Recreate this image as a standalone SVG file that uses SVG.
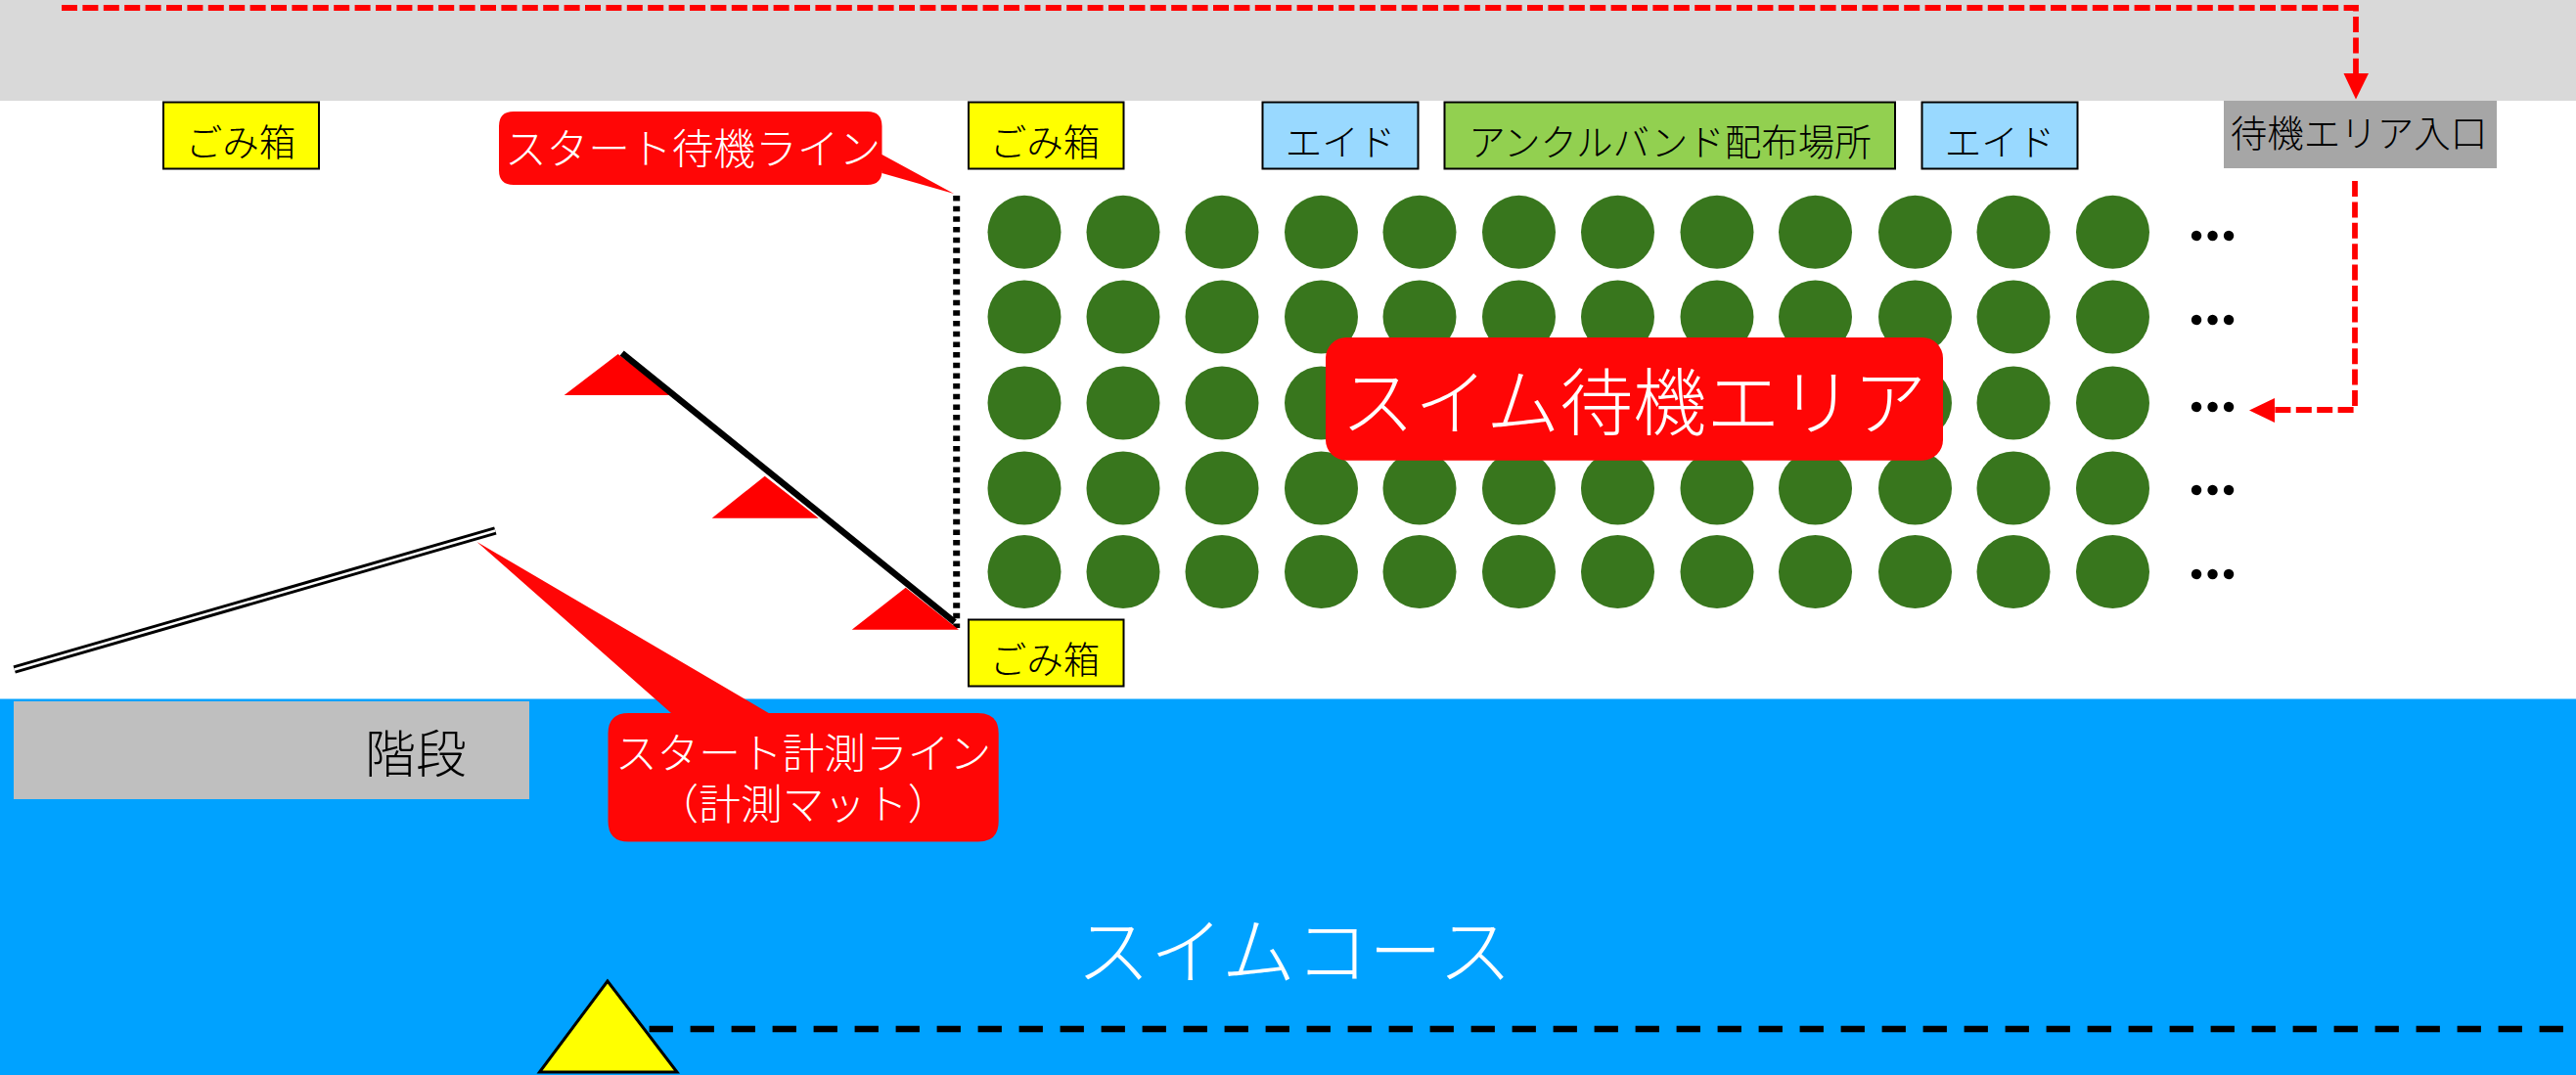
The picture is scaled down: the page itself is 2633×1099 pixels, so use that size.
<svg xmlns="http://www.w3.org/2000/svg" width="2633" height="1099" viewBox="0 0 2633 1099">
<defs>
<style>
text{font-family:"Noto Sans CJK JP","Liberation Serif",sans-serif;font-weight:300;text-anchor:middle}
.k{font-size:37.500px;fill:#000}
.w{font-size:42.700px;fill:#fff}
.b{font-size:75px;fill:#fff}
.box{stroke:#000;stroke-width:2}
.trash{fill:#ff0}
.aid{fill:#99d9ff}
.red{fill:#ff0606}
.flag{fill:#f00}
.seat{fill:#38761d}
.dots{font-size:49px;font-family:"Liberation Serif",serif;font-weight:700;fill:#000;stroke:#000;stroke-width:2.500}
.route{fill:none;stroke:#f00;stroke-width:5.800;stroke-dasharray:16 5.400}
</style>
</defs>
<rect width="2633" height="1099" fill="#fff"/>
<rect id="top-band" x="0" y="0" width="2633" height="103" fill="#d9d9d9"/>
<rect id="swim-water" x="0" y="714.500" width="2633" height="384.500" fill="#00a2ff"/>

<g id="seats">
<g id="row1"><circle class="seat" cx="1047" cy="237.3" r="37.5"/><circle class="seat" cx="1148" cy="237.3" r="37.5"/><circle class="seat" cx="1249" cy="237.3" r="37.5"/><circle class="seat" cx="1350.5" cy="237.3" r="37.5"/><circle class="seat" cx="1451" cy="237.3" r="37.5"/><circle class="seat" cx="1552.5" cy="237.3" r="37.5"/><circle class="seat" cx="1653.5" cy="237.3" r="37.5"/><circle class="seat" cx="1755" cy="237.3" r="37.5"/><circle class="seat" cx="1855.5" cy="237.3" r="37.5"/><circle class="seat" cx="1957.5" cy="237.3" r="37.5"/><circle class="seat" cx="2058" cy="237.3" r="37.5"/><circle class="seat" cx="2159.5" cy="237.3" r="37.5"/></g>
<g id="row2"><circle class="seat" cx="1047" cy="324" r="37.5"/><circle class="seat" cx="1148" cy="324" r="37.5"/><circle class="seat" cx="1249" cy="324" r="37.5"/><circle class="seat" cx="1350.5" cy="324" r="37.5"/><circle class="seat" cx="1451" cy="324" r="37.5"/><circle class="seat" cx="1552.5" cy="324" r="37.5"/><circle class="seat" cx="1653.5" cy="324" r="37.5"/><circle class="seat" cx="1755" cy="324" r="37.5"/><circle class="seat" cx="1855.5" cy="324" r="37.5"/><circle class="seat" cx="1957.5" cy="324" r="37.5"/><circle class="seat" cx="2058" cy="324" r="37.5"/><circle class="seat" cx="2159.5" cy="324" r="37.5"/></g>
<g id="row3"><circle class="seat" cx="1047" cy="412" r="37.5"/><circle class="seat" cx="1148" cy="412" r="37.5"/><circle class="seat" cx="1249" cy="412" r="37.5"/><circle class="seat" cx="1350.5" cy="412" r="37.5"/><circle class="seat" cx="1451" cy="412" r="37.5"/><circle class="seat" cx="1552.5" cy="412" r="37.5"/><circle class="seat" cx="1653.5" cy="412" r="37.5"/><circle class="seat" cx="1755" cy="412" r="37.5"/><circle class="seat" cx="1855.5" cy="412" r="37.5"/><circle class="seat" cx="1957.5" cy="412" r="37.5"/><circle class="seat" cx="2058" cy="412" r="37.5"/><circle class="seat" cx="2159.5" cy="412" r="37.5"/></g>
<g id="row4"><circle class="seat" cx="1047" cy="499" r="37.5"/><circle class="seat" cx="1148" cy="499" r="37.5"/><circle class="seat" cx="1249" cy="499" r="37.5"/><circle class="seat" cx="1350.5" cy="499" r="37.5"/><circle class="seat" cx="1451" cy="499" r="37.5"/><circle class="seat" cx="1552.5" cy="499" r="37.5"/><circle class="seat" cx="1653.5" cy="499" r="37.5"/><circle class="seat" cx="1755" cy="499" r="37.5"/><circle class="seat" cx="1855.5" cy="499" r="37.5"/><circle class="seat" cx="1957.5" cy="499" r="37.5"/><circle class="seat" cx="2058" cy="499" r="37.5"/><circle class="seat" cx="2159.5" cy="499" r="37.5"/></g>
<g id="row5"><circle class="seat" cx="1047" cy="584.5" r="37.5"/><circle class="seat" cx="1148" cy="584.5" r="37.5"/><circle class="seat" cx="1249" cy="584.5" r="37.5"/><circle class="seat" cx="1350.5" cy="584.5" r="37.5"/><circle class="seat" cx="1451" cy="584.5" r="37.5"/><circle class="seat" cx="1552.5" cy="584.5" r="37.5"/><circle class="seat" cx="1653.5" cy="584.5" r="37.5"/><circle class="seat" cx="1755" cy="584.5" r="37.5"/><circle class="seat" cx="1855.5" cy="584.5" r="37.5"/><circle class="seat" cx="1957.5" cy="584.5" r="37.5"/><circle class="seat" cx="2058" cy="584.5" r="37.5"/><circle class="seat" cx="2159.5" cy="584.5" r="37.5"/></g>
</g>

<g id="more-dots">
<text class="dots" x="2261.5" y="245">…</text>
<text class="dots" x="2261.5" y="331">…</text>
<text class="dots" x="2261.5" y="419.500">…</text>
<text class="dots" x="2261.5" y="505">…</text>
<text class="dots" x="2261.5" y="591">…</text>
</g>

<g id="trash-1"><rect class="box trash" x="167" y="104.5" width="159" height="68"/><text class="k" x="246" y="159">ごみ箱</text></g>
<g id="trash-2"><rect class="box trash" x="990" y="104.5" width="158.500" height="68"/><text class="k" x="1068" y="159">ごみ箱</text></g>
<g id="trash-3"><rect class="box trash" x="990" y="633.500" width="158.500" height="68"/><text class="k" x="1068" y="688">ごみ箱</text></g>
<g id="aid-1"><rect class="box aid" x="1290.500" y="104.500" width="159" height="68"/><text class="k" x="1370" y="159">エイド</text></g>
<g id="anklet"><rect class="box" fill="#92d050" x="1476.500" y="104.500" width="460.500" height="68"/><text class="k" x="1707" y="159">アンクルバンド配布場所</text></g>
<g id="aid-2"><rect class="box aid" x="1964.500" y="104.500" width="159" height="68"/><text class="k" x="2044" y="159">エイド</text></g>
<g id="entrance"><rect fill="#a6a6a6" x="2273" y="103" width="279" height="69"/><text class="k" x="2411" y="150">待機エリア入口</text></g>
<g id="stairs"><rect fill="#bfbfbf" x="14" y="717" width="527" height="100"/><text x="425" y="790" font-size="52" fill="#000">階段</text></g>
<g id="swim-course"><text class="b" x="1323" y="1000">スイムコース</text></g>

<g id="connectors">
<path class="route" d="M63 8H2408V76"/>
<polygon fill="#f00" points="2395.500,75 2421,75 2408,101.500"/>
<path class="route" d="M2407 185V419H2324"/>
<polygon fill="#f00" points="2325,407 2325,432 2299,419.500"/>
<line x1="977.700" y1="200" x2="977.700" y2="642" stroke="#000" stroke-width="7" stroke-dasharray="5.500 5.170"/>
<line x1="14.700" y1="684.500" x2="506.300" y2="542.500" stroke="#000" stroke-width="8.500"/>
<line x1="14.700" y1="684.500" x2="506.300" y2="542.500" stroke="#fff" stroke-width="2.400"/>
<line x1="663.600" y1="1052" x2="2633" y2="1052" stroke="#000" stroke-width="6.500" stroke-dasharray="24.300 17.700"/>
</g>

<g id="start-flags">
<polygon class="flag" points="631.700,362 576.700,404 686.700,404"/>
<polygon class="flag" points="781.700,486.700 727.700,529.700 836.700,529.700"/>
<polygon class="flag" points="925.700,600.700 870.700,643.700 980,643.700"/>
<line x1="635.700" y1="361" x2="975.700" y2="636" stroke="#000" stroke-width="6.500"/>
</g>

<g id="buoy"><polygon fill="#ff0" stroke="#000" stroke-width="3" points="621,1003 551.500,1096 692,1096"/></g>

<g id="callout-wait">
<path class="red" d="M525 114H886.500Q901.500 114 901.500 129V158L975 198L901.500 177V174Q901.500 189 886.500 189H525Q510 189 510 174V129Q510 114 525 114Z"/>
<text class="w" x="708" y="168">スタート待機ライン</text>
</g>
<g id="callout-measure">
<path class="red" d="M642.500 729H686L487.500 554L785.700 729H999.700Q1020.700 729 1020.700 750V839.600Q1020.700 860.600 999.700 860.600H642.500Q621.500 860.600 621.500 839.600V750Q621.500 729 642.500 729Z"/>
<text class="w"><tspan x="821" y="786">スタート計測ライン</tspan><tspan x="821" y="838">（計測マット）</tspan></text>
</g>
<g id="callout-area">
<rect class="red" x="1355" y="345" width="631" height="125.700" rx="21"/>
<text class="b" x="1670" y="439">スイム待機エリア</text>
</g>
</svg>
